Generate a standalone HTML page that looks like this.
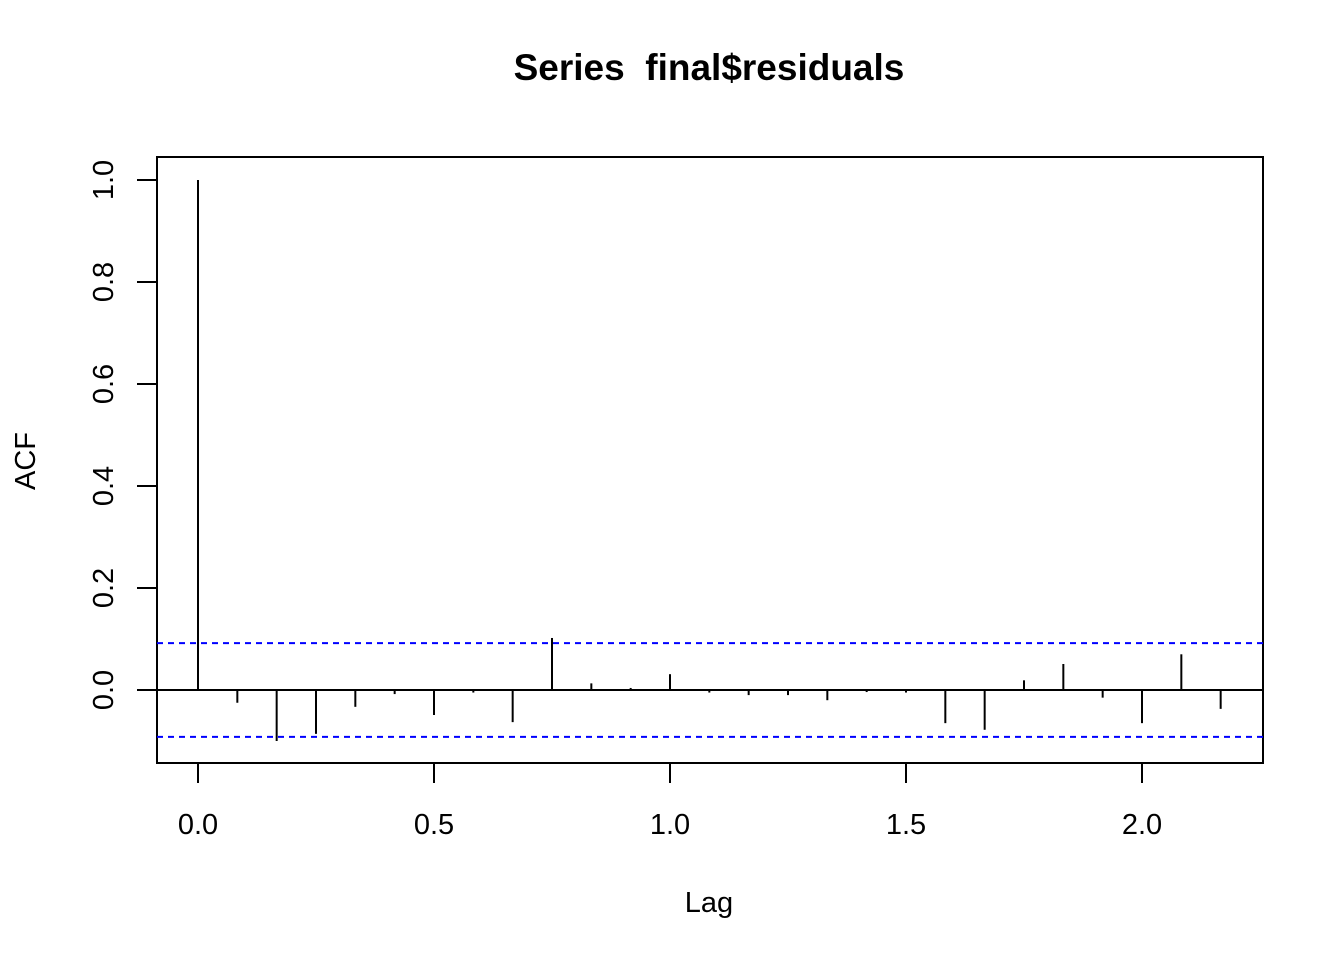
<!DOCTYPE html>
<html><head><meta charset="utf-8"><style>
html,body{margin:0;padding:0;background:#fff;}
svg text{font-family:"Liberation Sans",Arial,sans-serif;fill:#000;}
</style></head><body>
<svg id="chart" width="1344" height="960" xmlns="http://www.w3.org/2000/svg">
<text x="709" y="80" text-anchor="middle" font-size="37" font-weight="bold" xml:space="preserve" style="white-space:pre">Series  final$residuals</text>
<rect x="157" y="157" width="1106" height="606" fill="none" stroke="#000" stroke-width="2"/>
<text x="709" y="912" text-anchor="middle" font-size="29">Lag</text>
<text transform="translate(35,461) rotate(-90)" text-anchor="middle" font-size="29">ACF</text>
<g id="xaxis"></g>
<g id="yaxis"></g>
<g id="marks"></g>
</svg>
<script>
const acfValues=[1.0,-0.025,-0.10,-0.086,-0.033,-0.008,-0.049,-0.005,-0.063,0.102,0.013,0.004,0.031,-0.005,-0.01,-0.01,-0.02,-0.004,-0.005,-0.065,-0.078,0.019,0.051,-0.015,-0.065,0.07,-0.037];
const lagStep=1/12;
const xTicks=[0,0.5,1.0,1.5,2.0];
const xTickLabels=["0.0","0.5","1.0","1.5","2.0"];
const yTicks=[0,0.2,0.4,0.6,0.8,1.0];
const yTickLabels=["0.0","0.2","0.4","0.6","0.8","1.0"];
const ciLimit=0.092;

const NS="http://www.w3.org/2000/svg";
const xs=v=>198+v*472;
const ys=v=>690-v*510;
function mk(tag,attrs,parent){const e=document.createElementNS(NS,tag);for(const k in attrs)e.setAttribute(k,attrs[k]);parent.appendChild(e);return e;}
const xa=document.getElementById('xaxis'),ya=document.getElementById('yaxis'),mg=document.getElementById('marks');
mk('line',{x1:xs(xTicks[0]),x2:xs(xTicks[xTicks.length-1]),y1:763,y2:763,stroke:'#000','stroke-width':2},xa);
xTicks.forEach((t,i)=>{
  const l=mk('line',{x1:xs(t),x2:xs(t),y1:763,y2:783,stroke:'#000','stroke-width':2},xa);
  
  
  const tx=mk('text',{x:xs(t),y:834,'text-anchor':'middle','font-size':29},xa);tx.textContent=xTickLabels[i];
  
  
});
mk('line',{x1:157,x2:157,y1:ys(yTicks[0]),y2:ys(yTicks[yTicks.length-1]),stroke:'#000','stroke-width':2},ya);
yTicks.forEach((t,i)=>{
  const l=mk('line',{x1:137,x2:157,y1:ys(t),y2:ys(t),stroke:'#000','stroke-width':2},ya);
  
  
  const tx=mk('text',{transform:`translate(113,${ys(t)}) rotate(-90)`,'text-anchor':'middle','font-size':29},ya);tx.textContent=yTickLabels[i];
  
  
});
const z=mk('line',{x1:157,x2:1263,y1:ys(0),y2:ys(0),stroke:'#000','stroke-width':2},mg);


[ciLimit,-ciLimit].forEach(c=>{
  const l=mk('line',{x1:157,x2:1263,y1:ys(c),y2:ys(c),stroke:'#0000ff','stroke-width':2,'stroke-dasharray':'6,5'},mg);
  
  
});
acfValues.forEach((v,k)=>{
  const x=xs(k*lagStep);
  const l=mk('line',{x1:x,x2:x,y1:ys(0),y2:ys(v),stroke:'#000','stroke-width':2},mg);
  
  
});
</script>
</body></html>
